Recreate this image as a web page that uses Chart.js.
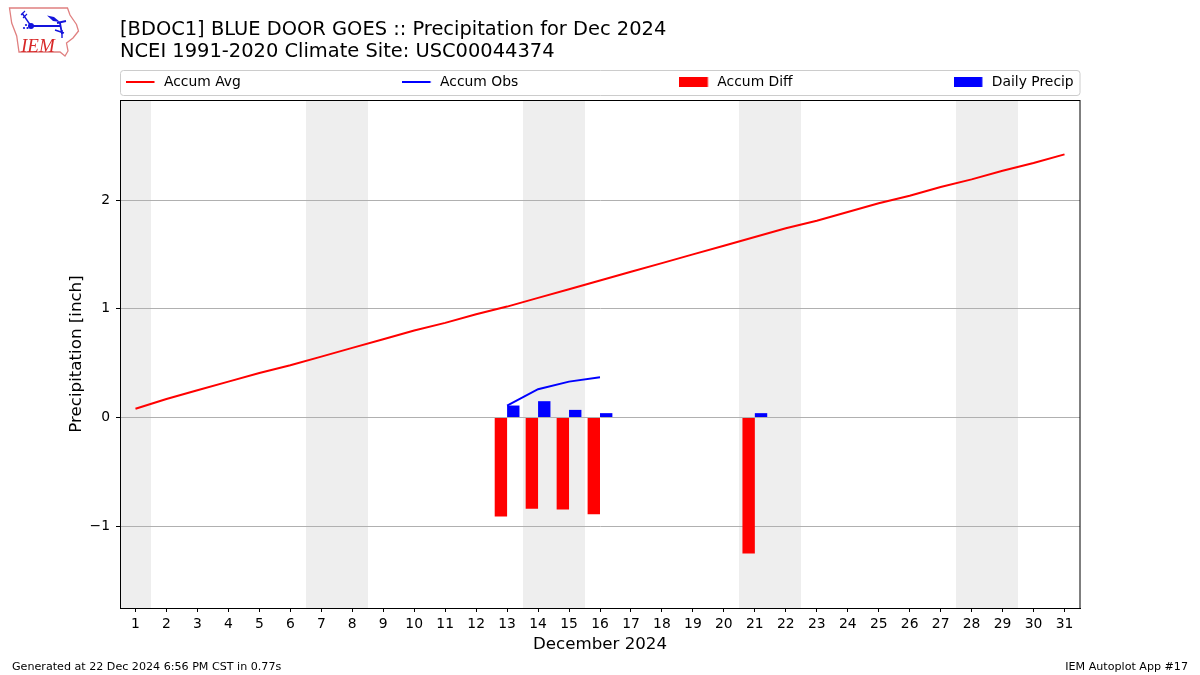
<!DOCTYPE html>
<html><head><meta charset="utf-8">
<style>
html,body{margin:0;padding:0;background:#fff;width:1200px;height:675px;overflow:hidden}
#c{position:absolute;left:0;top:0}
#logo{position:absolute;left:0;top:0}
</style>
<script src="https://cdn.jsdelivr.net/npm/chart.js@4/dist/chart.umd.min.js"></script>
</head><body>
<canvas id="c" width="1200" height="675"></canvas>
<svg id="logo" width="90" height="62" viewBox="0 0 90 62">
<path d="M9.5 8 L67.5 8 L70 15 L76.5 24.5 L78.5 31 L73 38 L66.5 43 L68 51 L65 56 L60 52 L19 52 L16.7 36 L11.7 23 Z" fill="none" stroke="#e08080" stroke-width="1.3"/>
<g stroke="#1414dc" fill="#1414dc">
<path d="M31 26 L22 13" stroke-width="1.4" fill="none"/>
<path d="M21 15 L25 11 M23 18 L27 14" stroke-width="1.1" fill="none"/>
<circle cx="31" cy="26" r="3" stroke="none"/>
<path d="M31 26 L60 26 M57 23 L66 21 M60 23 L62 34" stroke-width="1.8" fill="none"/>
<path d="M47 15.5 L54 17 L60 22 L53 21 Z" stroke="none"/>
<path d="M55 30 L64 33 M62 30 L62 38" stroke-width="1.4" fill="none"/>
<circle cx="24" cy="28" r="1.1" stroke="none"/><circle cx="26" cy="25" r="1.1" stroke="none"/><circle cx="27.5" cy="28" r="1.1" stroke="none"/>
</g>
<text x="21" y="52" font-family="Liberation Serif" font-style="italic" font-size="19" fill="#d82828">IEM</text>
</svg>
<script>
const days = ['1','2','3','4','5','6','7','8','9','10','11','12','13','14','15','16','17','18','19','20','21','22','23','24','25','26','27','28','29','30','31'];
const accumAvg = [0.08,0.17,0.25,0.33,0.41,0.48,0.56,0.64,0.72,0.80,0.87,0.95,1.02,1.10,1.18,1.26,1.34,1.42,1.50,1.58,1.66,1.74,1.81,1.89,1.97,2.04,2.12,2.19,2.27,2.34,2.42];
const accumObs = [null,null,null,null,null,null,null,null,null,null,null,null,0.11,0.26,0.33,0.37,null,null,null,null,null,null,null,null,null,null,null,null,null,null,null];
const accumDiff = [null,null,null,null,null,null,null,null,null,null,null,null,-0.91,-0.84,-0.845,-0.89,null,null,null,null,-1.25,null,null,null,null,null,null,null,null,null,null];
const dailyPrecip = [null,null,null,null,null,null,null,null,null,null,null,null,0.11,0.15,0.07,0.04,null,null,null,null,0.04,null,null,null,null,null,null,null,null,null,null];
const weekendDays = ['1','7','8','14','15','21','22','28','29'];
const seriesNames = ['Accum Avg','Accum Obs','Accum Diff','Daily Precip'];
const titleLines = ['[BDOC1] BLUE DOOR GOES :: Precipitation for Dec 2024','NCEI 1991-2020 Climate Site: USC00044374'];
const footerLeft = 'Generated at 22 Dec 2024 6:56 PM CST in 0.77s';
const footerRight = 'IEM Autoplot App #17';
const FONT = '"DejaVu Sans"';

function handle(color, h){
  const cv = document.createElement('canvas');
  cv.width = 31; cv.height = 12;
  const x = cv.getContext('2d');
  x.fillStyle = color;
  x.fillRect(0, (12-h)/2, 28.5, h);
  return cv;
}
const handles = [handle('#ff0000',2), handle('#0000ff',2), handle('#ff0000',10), handle('#0000ff',10)];
const LEGEND_GAP = 161.2;

const frame = {
  id:'frame',
  beforeLayout(chart){
    [chart.legend, chart.titleBlock].forEach(b=>{
      if(!b._pinned){
        const u = b.update;
        b.update = function(...args){ u.apply(this,args); this.height = 0; };
        b._pinned = true;
      }
    });
  },
  afterLayout(chart){
    const l = chart.legend;
    l.left = 126 - LEGEND_GAP; l.right = 1700; l.top = 82 - LEGEND_GAP - 6.95; l.bottom = 98;
    const t = chart.titleBlock;
    t.left = 120; t.right = 1080; t.top = 19; t.bottom = 62;
  },
  beforeDraw(chart){
    const {ctx, chartArea:a, scales:{x}} = chart;
    ctx.save();
    ctx.fillStyle = '#fff';
    ctx.fillRect(0,0,chart.width,chart.height);
    ctx.fillStyle = '#eeeeee';
    weekendDays.forEach(d=>{
      const i = days.indexOf(d);
      const p = x.getPixelForValue(i), half = (x.getPixelForValue(1)-x.getPixelForValue(0))/2;
      const l = Math.round(p-half), r = Math.round(p+half);
      ctx.fillRect(l, a.top, r-l, a.bottom-a.top);
    });
    ctx.strokeStyle = '#cccccc'; ctx.lineWidth = 1;
    ctx.beginPath(); ctx.roundRect(120.5,70.5,959.5,25,3); ctx.stroke();
    ctx.restore();
  },
  afterDraw(chart){
    const {ctx, chartArea:a} = chart;
    ctx.save();
    ctx.strokeStyle = '#000'; ctx.lineWidth = 1;
    ctx.strokeRect(a.left+0.5, a.top+0.5, a.right-a.left-0.5, a.bottom-a.top);
    ctx.fillStyle = '#000'; ctx.font = '11.11px '+FONT; ctx.textBaseline = 'middle';
    ctx.textAlign = 'left'; ctx.fillText(footerLeft, 12, 667);
    ctx.textAlign = 'right'; ctx.fillText(footerRight, 1188, 667);
    ctx.restore();
  }
};

new Chart(document.getElementById('c'),{
  type:'bar',
  data:{labels:days,datasets:[
    {type:'line',label:seriesNames[0],data:accumAvg,borderColor:'#ff0000',borderWidth:2,pointRadius:0,tension:0,spanGaps:false},
    {type:'line',label:seriesNames[1],data:accumObs,borderColor:'#0000ff',borderWidth:2,pointRadius:0,tension:0,spanGaps:false},
    {label:seriesNames[2],data:accumDiff,backgroundColor:'#ff0000',categoryPercentage:0.8,barPercentage:1,inflateAmount:0},
    {label:seriesNames[3],data:dailyPrecip,backgroundColor:'#0000ff',categoryPercentage:0.8,barPercentage:1,inflateAmount:0}
  ]},
  plugins:[frame],
  options:{
    responsive:false,animation:false,
    layout:{padding:{left:0,right:120,top:100,bottom:20}},
    plugins:{
      tooltip:{enabled:false},
      title:{display:true,text:titleLines,align:'start',color:'#000',padding:0,font:{family:FONT,size:19.44,weight:'normal',lineHeight:1.13}},
      legend:{display:true,position:'top',align:'start',labels:{
        padding:LEGEND_GAP,usePointStyle:true,pointStyleWidth:31,color:'#000',font:{family:FONT,size:13.89},
        generateLabels:()=>seriesNames.map((n,i)=>({text:n,pointStyle:handles[i],datasetIndex:i,hidden:false,fontColor:'#000',lineWidth:0,strokeStyle:'transparent',fillStyle:'transparent'}))
      }}
    },
    scales:{
      x:{
        type:'category',offset:true,
        afterFit:s=>{s.height=47;},
        grid:{drawOnChartArea:false,color:'#000',tickColor:'#000',tickLength:4,offset:false},
        border:{color:'#000',width:1},
        ticks:{autoSkip:false,maxRotation:0,minRotation:0,color:'#000',font:{family:FONT,size:13.89},padding:4},
        title:{display:true,text:'December 2024',color:'#000',font:{family:FONT,size:16.67},padding:{top:0,bottom:0.5}}
      },
      y:{
        min:-1.752,max:2.92,
        afterFit:s=>{s.width=120;},
        grid:{color:'#b0b0b0',tickColor:'#000',tickLength:4,lineWidth:1},
        border:{color:'#000',width:1},
        ticks:{stepSize:1,includeBounds:false,color:'#000',font:{family:FONT,size:13.89},padding:6,
          callback:v=>String(v).replace('-','\u2212')},
        title:{display:true,text:'Precipitation [inch]',color:'#000',font:{family:FONT,size:16.67},padding:{top:67,bottom:0}}
      }
    }
  }
});
</script>
</body></html>
